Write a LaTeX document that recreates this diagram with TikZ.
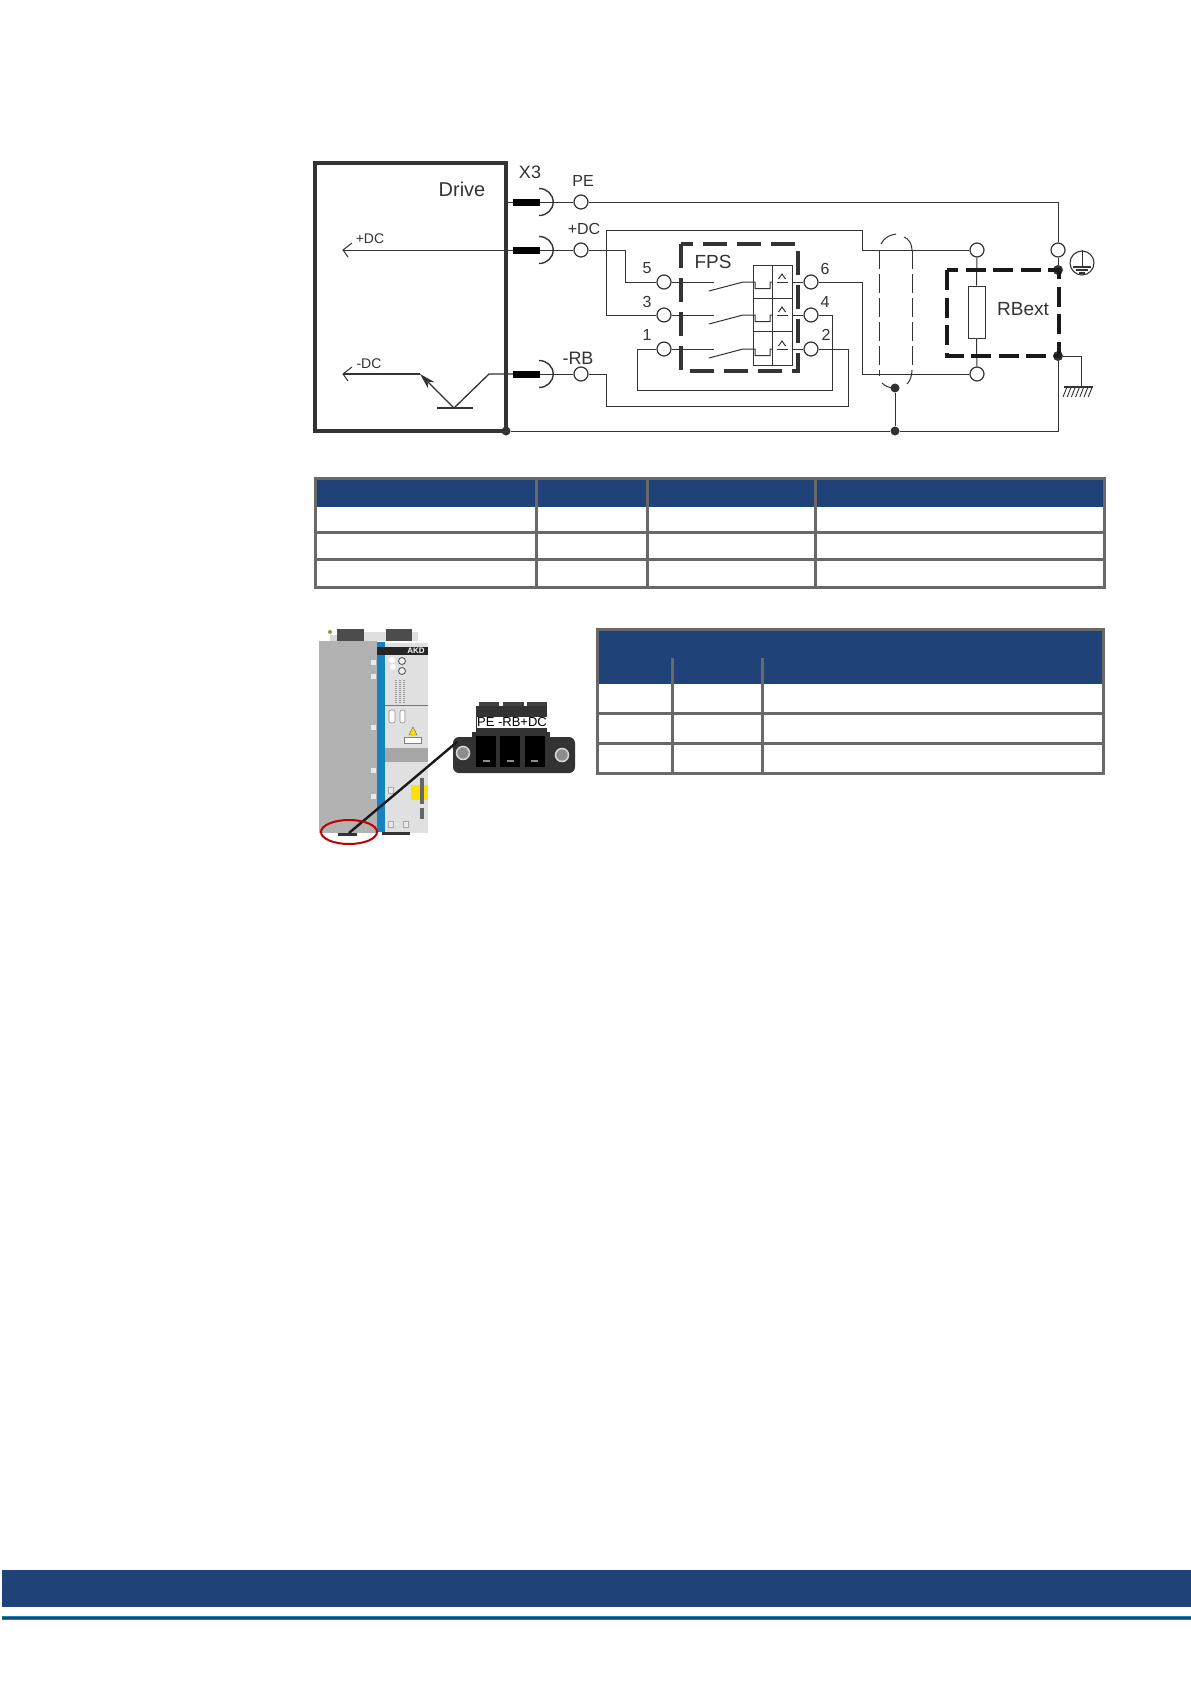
\documentclass[tikz,border=0pt]{standalone}
\usepackage{fontspec}
\setmainfont{Liberation Sans}
\usetikzlibrary{arrows.meta,calc}
\definecolor{navy}{HTML}{1F4279}
\definecolor{gridgray}{HTML}{696969}
\definecolor{ink}{HTML}{333333}
\definecolor{akdblue}{HTML}{1583BE}
\newcommand{\fs}[1]{\fontsize{#1}{#1}\selectfont}
\tikzset{
  wire/.style={draw=ink,line width=1pt},
  term/.style={circle,draw=ink,fill=white,line width=1.2pt,minimum size=14pt,inner sep=0pt},
  jdot/.style={circle,fill=ink,minimum size=#1,inner sep=0pt},
  bar/.style={rectangle,fill=black,minimum width=27pt,minimum height=7pt,inner sep=0pt},
  lab/.style={text=ink,inner sep=0pt},
  fpsdash/.style={draw=ink,line width=3.4pt,dash pattern=on 24pt off 10pt,line join=miter},
  rbdash/.style={draw=black!90,line width=4pt,dash pattern=on 20pt off 7.5pt},
  shield/.style={draw=ink,line width=1pt,dash pattern=on 19pt off 5pt},
  gridline/.style={draw=gridgray,line width=3pt},
}
\begin{document}
\begin{tikzpicture}[x=1pt,y=-1pt]
\useasboundingbox (0,0) rectangle (1191,1684);
\fill[white] (0,0) rectangle (1191,1684);

% ---------- nodes of the wiring diagram
\node[draw=ink,line width=4.2pt,minimum width=191pt,minimum height=268pt,inner sep=0pt] (drive) at (410.5,297) {};
\node[lab,font=\fs{20}] (tdrive) at (462,189) {Drive};
\node[lab,font=\fs{18}] (tx3) at (530,172) {X3};
\node[lab,font=\fs{16}] (tpe) at (583,181) {PE};
\node[lab,font=\fs{16}] (tdc) at (584,229) {+DC};
\node[lab,font=\fs{18}] (trb) at (578,358) {-RB};
\node[lab,font=\fs{14}] (tidc) at (370,239) {+DC};
\node[lab,font=\fs{14}] (tndc) at (369,364) {-DC};
\node[lab,font=\fs{19}] (tfps) at (713,262) {FPS};
\node[lab,font=\fs{19}] (trbe) at (1023,309) {RBext};
\foreach \n/\t/\x/\y in {n5/5/647/268,n3/3/647/302,n1/1/647/335,n6/6/825/269,n4/4/825/302,n2/2/826/335}
  \node[lab,font=\fs{16}] (\n) at (\x,\y) {\t};

\node[bar] (bpe) at (526.5,202) {};
\node[bar] (bdc) at (526.5,250) {};
\node[bar] (brb) at (526.5,374) {};
\node[term] (pe) at (581,202) {};
\node[term] (dc) at (581,250) {};
\node[term] (rb) at (581,374) {};
\node[term] (t5) at (664,282) {};
\node[term] (t3) at (664,315) {};
\node[term] (t1) at (664,349) {};
\node[term] (t6) at (811,282) {};
\node[term] (t4) at (811,315) {};
\node[term] (t2) at (811,349) {};
\node[term] (ra) at (977,250) {};
\node[term] (rc) at (977,374) {};
\node[term] (gt) at (1058,250) {};
\node[jdot=9pt] (jdrive) at (506,431) {};
\node[jdot=9pt] (jbot) at (895,431) {};
\node[jdot=9pt] (jshield) at (895,388) {};
\node[jdot=10pt] (jtop) at (1058,270) {};
\node[jdot=10pt] (jlow) at (1058,356) {};
\node[draw=ink,line width=1pt,fill=white,minimum width=17pt,minimum height=52pt,inner sep=0pt] (res) at (976.5,312) {};
\coordinate (gnd) at (1081,387);
\coordinate (aidc) at (343,250);
\coordinate (andc) at (343,374);
\coordinate (tbase) at (420,374);
\coordinate (tv) at (454,408);

% ---------- sockets
\foreach \b in {bpe,bdc,brb}
  \draw[wire,line width=1.4pt] ([shift={(-1,-13.5)}]\b.east) arc[start angle=90,end angle=-90,x radius=14pt,y radius=13.5pt];

% ---------- wires
\draw[wire] (drive.east |- bpe) -- (bpe.west);
\draw[wire] (bpe.east) -- (pe);
\draw[wire] (aidc) -- (bdc.west);
\draw[wire] (bdc.east) -- (dc);
\draw[wire] (brb.east) -- (rb);
\draw[wire] (pe) -- (1058,202) -- (gt);
\draw[wire] (gt) -- (jtop);
\draw[wire] (dc) -- (625,250) |- (t5);
\draw[wire] (606,250) |- (t3);
\draw[wire] (606,250) -- (606,230) -- (862,230) -- (862,250) -- (ra);
\draw[wire] (t1) -- (637,349) -- (637,390) -- (832,390) -- (832,315) -- (t4);
\draw[wire] (rb) -- (606,374) -- (606,406) -- (848,406) -- (848,349) -- (t2);
\draw[wire] (t6) -- (862,282) -- (862,374) -- (rc);
\draw[wire] (ra) -- (res.north);
\draw[wire] (res.south) -- (rc);
\draw[wire] (jdrive) -- (jbot);
\draw[wire] (jbot) -- (1058,431) -- (jlow);
\draw[wire] (jbot) -- (jshield);
\draw[wire] (jlow) -- (1081,356) -- (gnd);

% ---------- transistor
\draw[wire,line width=1.4pt] (andc) -- (tbase);
\draw[wire,line width=1.3pt,{Stealth[length=16pt,width=9pt]}-] (tbase) -- (tv);
\draw[wire,line width=1.3pt] (tv) -- (489,374) -- (brb.west);
\draw[wire,line width=1.2pt] (437,408) -- (473,408);
\draw[wire] (352,243) -- (aidc) -- (348,257);
\draw[wire] (352,367) -- (andc) -- (348,381);

% ---------- ground and earth
\draw[wire,line width=1.2pt] (1064,387) -- (1093,387);
\foreach \k in {0,...,6}
  \draw[wire,line width=.9pt] (1067+\k*4.2,387) -- (1063+\k*4.2,397);
\node[circle,draw=ink,line width=1.1pt,minimum size=24pt,inner sep=0pt] (earth) at (1082,263) {};
\draw[wire] (earth.north) -- (1082,267);
\draw[wire,line width=1.2pt] (1073,267) -- (1091,267);
\draw[wire,line width=1.2pt] (1076,270) -- (1088,270);
\draw[wire,line width=1.2pt] (1079,273) -- (1085,273);

% ---------- switches
\foreach \y/\l/\r in {282/t5/t6,315/t3/t4,349/t1/t2}{
  \draw[wire] (\l) -- (714,\y);
  \draw[wire] (709,\y+9) -- (743,\y) -- (755,\y) -- (755,\y+6.5) -- (770,\y+6.5) -- (770,\y) -- (772,\y);
  \draw[wire] (792,\y) -- (\r);
  \draw[wire,line width=1pt] (777,\y) -- (788,\y);
  \draw[wire,line width=1pt] (778.5,\y-3) -- (782,\y-8) -- (785.5,\y-3);
}
\draw[wire,line width=.9pt] (753,265) rectangle (792,365);
\draw[wire,line width=.9pt] (772,265) -- (772,365);
\draw[wire,line width=.9pt] (753,298) -- (792,298);
\draw[wire,line width=.9pt] (753,331) -- (792,331);

% ---------- dashed boxes
\draw[fpsdash] (681,244) rectangle (798,371);
\draw[rbdash] (947,270) rectangle (1059,356);
\draw[shield] (879,250) -- (879,376);
\draw[shield] (912,250) -- (912,370);
\draw[wire] (881,244) .. controls (884,238) and (889,235) .. (896,234);
\draw[wire] (904,237) .. controls (909,239) and (912,244) .. (912,250);
\draw[wire] (912,370) .. controls (912,376) and (910,381) .. (907,384);
\draw[wire] (882,383) .. controls (885,386) and (889,388) .. (895,388);

% ---------- table 1
\fill[navy] (315,478) rectangle (1104,507);
\foreach \y in {478,532,559,587} \draw[gridline] (313.5,\y) -- (1105.5,\y);
\foreach \x in {315,536,647,815,1104} \draw[gridline] (\x,478) -- (\x,587);

% ---------- table 2
\fill[navy] (597.5,629) rectangle (1103,684);
\foreach \y in {629,713,743,773} \draw[gridline] (596,\y) -- (1104.5,\y);
\foreach \x in {597.5,1103} \draw[gridline] (\x,629) -- (\x,773);
\foreach \x in {672.5,762.5} \draw[gridline] (\x,658) -- (\x,773);

% ---------- footer
\fill[navy] (1.5,1570) rectangle (1191,1607);
\fill[akdblue] (1.5,1616) rectangle (1191,1620);
\fill[navy] (1.5,1617) rectangle (1191,1619);

% ---------- drive photo
\fill[gray!30] (330,635) rectangle (337,641);
\fill[gray!25] (364,632) rectangle (386,641);
\fill[gray!25] (412,632) rectangle (418,641);
\fill[black!70] (337,629) rectangle (364,641);
\fill[black!70] (386,629) rectangle (412,641);
\fill[black!45!yellow] (330,632) circle (2);
\fill[black!30] (319,641) rectangle (377,833);
\fill[akdblue] (377,642) rectangle (385,832);
\fill[black!12] (385,643) rectangle (428,833);
\fill[black!35] (385,748) rectangle (428,762);
\fill[black!85] (377,647) rectangle (428,655);
\node[text=white,font=\bfseries\fs{8},inner sep=0pt] (akd) at (416,651) {AKD};
\draw[black!55,line width=.5pt] (385,705) -- (428,705);
\foreach \y in {662,676,727,770,796} \fill[black!8] (371,\y-2.5) rectangle (376,\y+2.5);
\foreach \x/\y in {392/660,393/667} \fill[white] (\x,\y) circle (3);
\foreach \y in {661,671} \draw[black!70,line width=.8pt,fill=black!5] (402,\y) circle (3.5);
\foreach \x in {396,400,404} \draw[black!40,line width=1.6pt,dash pattern=on 1pt off 1pt] (\x,680) -- (\x,703);
\draw[black!45,fill=white,line width=.6pt,rounded corners=2pt] (389,710) rectangle (395,723);
\draw[black!45,fill=white,line width=.6pt,rounded corners=2pt] (400,710) rectangle (405,723);
\fill[yellow!85!orange,draw=black!70,line width=.4pt] (409,735) -- (413,727) -- (417,735) -- cycle;
\draw[black!50,fill=white,line width=.5pt] (404,737) rectangle (421,743);
\fill[yellow!85!orange] (411,785) rectangle (428,800);
\fill[black!60] (420,778) rectangle (424,804);
\fill[black!60] (420,808) rectangle (424,819);
\foreach \x/\y in {391/790,391/824,406/824} \draw[black!35,fill=black!8,line width=.5pt] (\x-2.5,\y-3) rectangle (\x+2.5,\y+3);
\fill[black!80] (382,832) rectangle (410,835);
\fill[black!80] (338,833) rectangle (357,836);

% ---------- terminal photo
\fill[black!75] (479,702) rectangle (499,708);
\fill[black!75] (503,702) rectangle (524,708);
\fill[black!75] (527,702) rectangle (547,708);
\fill[black!80] (476,706) rectangle (547,732);
\fill[black!80] (472,732) rectangle (550,737);
\fill[black!80,rounded corners=6pt] (453,773) -- (453,737) -- (575,737) -- (575,773) -- cycle;
\foreach \x in {476,500,525} \fill[black] (\x,736) rectangle (\x+20,767);
\foreach \x in {483,507,531} \fill[black!45] (\x,760) rectangle (\x+7,762);
\node[fill=white,inner sep=0pt,minimum width=70pt,minimum height=11pt,font=\fs{13},text=black] (plabel) at (512,722) {PE -RB+DC};
\node[circle,fill=black!45,draw=black!15,line width=1.5pt,minimum size=13pt,inner sep=0pt] (sl) at (463,753) {};
\node[circle,fill=black!45,draw=black!15,line width=1.5pt,minimum size=13pt,inner sep=0pt] (sr) at (562,755) {};
\coordinate (pa) at (349,833);
\coordinate (pb) at (457,742);
\draw[black!90,line width=2.4pt] (pa) -- (pb);
\draw[red!75!black,line width=2pt] (349,832) ellipse [x radius=28,y radius=12];
\end{tikzpicture}
\end{document}
